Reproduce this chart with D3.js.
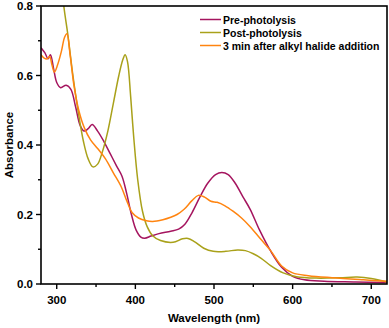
<!DOCTYPE html>
<html>
<head>
<meta charset="utf-8">
<script src="https://cdn.jsdelivr.net/npm/d3@7"></script>
<style>
  body { margin: 0; background: #fff; }
  text { font-family: "Liberation Sans", Arial, sans-serif; font-weight: bold; }
</style>
</head>
<body>
<script>
// spectra, [wavelength nm, absorbance]
var prePhotolysis = [
  [280, 0.68], [285, 0.665], [289, 0.648], [292, 0.66], [296, 0.62], [300, 0.58], [305, 0.565],
  [312, 0.572], [318, 0.56], [324, 0.51], [330, 0.455], [335, 0.44], [340, 0.447], [345, 0.459],
  [352, 0.44], [360, 0.41], [368, 0.375], [376, 0.34], [383, 0.31], [389, 0.26], [395, 0.2],
  [401, 0.155], [407, 0.135], [412, 0.132], [420, 0.138], [430, 0.145], [445, 0.152], [455, 0.158],
  [463, 0.172], [472, 0.205], [482, 0.25], [492, 0.29], [502, 0.315], [510, 0.321], [518, 0.315],
  [527, 0.29], [537, 0.25], [546, 0.215], [558, 0.155], [572, 0.095], [586, 0.048], [600, 0.022],
  [615, 0.012], [640, 0.008], [680, 0.006], [720, 0.004]
];
var postPhotolysis = [
  [300, 0.98], [305, 0.9], [309, 0.8], [314, 0.72], [320, 0.61], [327, 0.5], [334, 0.41],
  [340, 0.36], [346, 0.337], [352, 0.345], [358, 0.38], [365, 0.44], [372, 0.52], [379, 0.6],
  [384, 0.645], [387, 0.66], [390, 0.64], [394, 0.54], [398, 0.42], [403, 0.3], [409, 0.21],
  [415, 0.165], [422, 0.139], [432, 0.125], [448, 0.12], [460, 0.13], [467, 0.131], [475, 0.122],
  [487, 0.103], [499, 0.094], [515, 0.094], [530, 0.098], [540, 0.096], [550, 0.087], [560, 0.074],
  [572, 0.053], [588, 0.032], [605, 0.021], [630, 0.017], [660, 0.018], [682, 0.02], [700, 0.016],
  [720, 0.006]
];
var alkylHalide = [
  [280, 0.66], [284, 0.65], [288, 0.648], [291, 0.655], [294, 0.63], [297, 0.61], [301, 0.63],
  [306, 0.67], [310, 0.71], [313, 0.72], [317, 0.66], [322, 0.57], [328, 0.5], [335, 0.45],
  [343, 0.415], [352, 0.39], [362, 0.36], [372, 0.32], [382, 0.28], [389, 0.24], [396, 0.205],
  [404, 0.19], [414, 0.182], [422, 0.18], [435, 0.185], [445, 0.192], [453, 0.2], [462, 0.215],
  [472, 0.24], [480, 0.255], [488, 0.25], [496, 0.238], [504, 0.235], [514, 0.225], [525, 0.208],
  [535, 0.19], [546, 0.165], [559, 0.13], [572, 0.096], [586, 0.052], [600, 0.032], [620, 0.024],
  [650, 0.018], [690, 0.012], [720, 0.008]
];
var seriesNames = ["Pre-photolysis", "Post-photolysis", "3 min after alkyl halide addition"];
var seriesColors = ["#a5155f", "#a9a11a", "#ff8410"];
var xTicks = [300, 400, 500, 600, 700];
var yTicks = [0.0, 0.2, 0.4, 0.6, 0.8];

var W = 389, H = 328;
var pL = 41, pR = 387, pT = 6, pB = 284;

var svg = d3.select("body").append("svg").attr("width", W).attr("height", H);

var x = d3.scaleLinear().domain([280, 720]).range([pL, pR]);
var y = d3.scaleLinear().domain([0, 0.8]).range([pB, pT]);

svg.append("clipPath").attr("id", "clip")
  .append("rect").attr("x", pL).attr("y", pT).attr("width", pR - pL).attr("height", pB - pT);

var line = d3.line()
  .x(function(d) { return x(d[0]); })
  .y(function(d) { return y(d[1]); })
  .curve(d3.curveCatmullRom.alpha(0.5));

var g = svg.append("g").attr("clip-path", "url(#clip)");
[prePhotolysis, postPhotolysis, alkylHalide].forEach(function(s, i) {
  g.append("path")
    .datum(s)
    .attr("fill", "none")
    .attr("stroke", seriesColors[i])
    .attr("stroke-width", 1.5)
    .attr("d", line);
});

// frame
svg.append("rect")
  .attr("x", pL).attr("y", pT).attr("width", pR - pL).attr("height", pB - pT)
  .attr("fill", "none").attr("stroke", "#000").attr("stroke-width", 1.6);

// x axis
var xAxis = svg.append("g").attr("transform", "translate(0," + pB + ")");
xAxis.selectAll("line.minor").data(d3.range(350, 720, 100)).enter().append("line")
  .attr("x1", x).attr("x2", x).attr("y1", 0).attr("y2", 3)
  .attr("stroke", "#000").attr("stroke-width", 1.4);
xAxis.selectAll("line.major").data(xTicks).enter().append("line")
  .attr("x1", x).attr("x2", x).attr("y1", 0).attr("y2", 5)
  .attr("stroke", "#000").attr("stroke-width", 1.4);
xAxis.selectAll("text").data(xTicks).enter().append("text")
  .attr("x", x).attr("y", 20)
  .attr("text-anchor", "middle").attr("font-size", 11.5)
  .text(function(d) { return d; });

// y axis
var yAxis = svg.append("g").attr("transform", "translate(" + pL + ",0)");
yAxis.selectAll("line.minor").data([0.1, 0.3, 0.5, 0.7]).enter().append("line")
  .attr("x1", 0).attr("x2", -3).attr("y1", y).attr("y2", y)
  .attr("stroke", "#000").attr("stroke-width", 1.4);
yAxis.selectAll("line.major").data(yTicks).enter().append("line")
  .attr("x1", 0).attr("x2", -5).attr("y1", y).attr("y2", y)
  .attr("stroke", "#000").attr("stroke-width", 1.4);
yAxis.selectAll("text").data(yTicks).enter().append("text")
  .attr("x", -8).attr("y", function(d) { return y(d) + 4; })
  .attr("text-anchor", "end").attr("font-size", 11.5)
  .text(function(d) { return d.toFixed(1); });

svg.append("text")
  .attr("transform", "translate(13," + ((pT + pB) / 2) + ")rotate(-90)")
  .attr("text-anchor", "middle").attr("font-size", 11.5)
  .text("Absorbance");
svg.append("text")
  .attr("x", (pL + pR) / 2).attr("y", 322)
  .attr("text-anchor", "middle").attr("font-size", 11.5)
  .text("Wavelength (nm)");

// legend
var legend = svg.append("g");
seriesNames.forEach(function(name, i) {
  var ly = 19.5 + i * 13;
  legend.append("line")
    .attr("x1", 200).attr("x2", 221).attr("y1", ly).attr("y2", ly)
    .attr("stroke", seriesColors[i]).attr("stroke-width", 1.5);
  legend.append("text")
    .attr("x", 223).attr("y", ly + 4)
    .attr("font-size", 10.5)
    .text(name);
});
</script>
</body>
</html>
